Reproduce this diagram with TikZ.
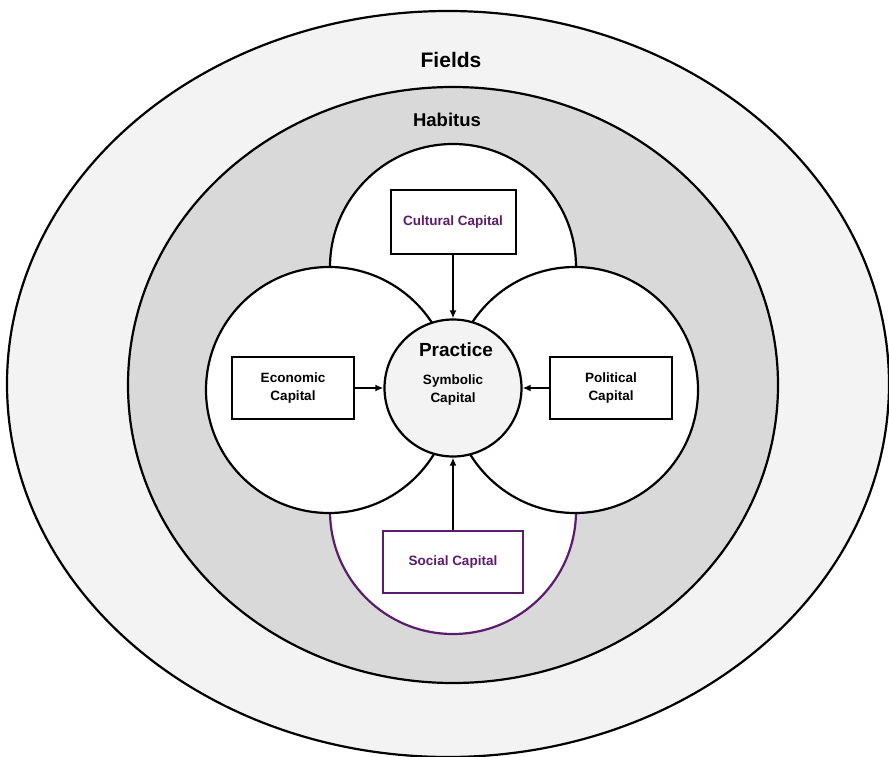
\documentclass[tikz,border=0pt]{standalone}
\usepackage{fontspec}
\setmainfont{Liberation Sans}
\usetikzlibrary{arrows.meta, positioning}
\definecolor{fieldgray}{HTML}{F3F3F3}
\definecolor{habitusgray}{HTML}{D9D9D9}
\definecolor{capitalpurple}{HTML}{5C1C6C}
\tikzset{
    ring/.style = {draw, line width = 2.2pt},
    lobe/.style = {circle, ring, fill = white, minimum size = 246pt, inner sep = 0pt},
    capital box/.style = {draw, line width = 2pt, fill = white, minimum width = 122pt,
        minimum height = 62pt, inner sep = 0pt, align = center,
        font = \fontsize{13.5pt}{18pt}\selectfont\bfseries},
    feeds/.style = {line width = 1.9pt, -{Latex[length = 8pt, width = 7pt]}},
}

\begin{document}
\begin{tikzpicture}[x = 1pt, y = -1pt]
    \useasboundingbox (0, 0) rectangle (889, 757);

    % fields and habitus
    \draw[ring, fill = fieldgray] (448, 384) ellipse [x radius = 441pt, y radius = 373pt];
    \draw[ring, fill = habitusgray] (453, 385) ellipse [x radius = 325pt, y radius = 298pt];

    \node[font = \fontsize{21pt}{24pt}\selectfont\bfseries] (fields) at (451, 60) {Fields};
    \node[font = \fontsize{18.5pt}{22pt}\selectfont\bfseries] (habitus) at (447, 120) {Habitus};

    % the four lobes
    \node[lobe] (top lobe) at (453, 267) {};
    \node[lobe, draw = capitalpurple] (bottom lobe) at (453, 511) {};
    \node[lobe] (left lobe) at (329, 390) {};
    \node[lobe] (right lobe) at (575, 390) {};

    \node[circle, ring, fill = fieldgray, minimum size = 137pt, inner sep = 0pt] (practice) at (453, 388) {};
    \node[font = \fontsize{19pt}{22pt}\selectfont\bfseries] (practice title) at (456, 350) {Practice};
    \node[align = center, font = \fontsize{13.5pt}{18pt}\selectfont\bfseries] (symbolic) at (453, 390) {Symbolic\\Capital};

    \node[capital box, minimum width = 125pt, minimum height = 64pt, text = capitalpurple] (cultural) at (453, 222) {Cultural Capital};
    \node[capital box] (economic) at (293, 388) {Economic\\Capital};
    \node[capital box] (political) at (611, 388) {Political\\Capital};
    \node[capital box, minimum width = 140pt, draw = capitalpurple, text = capitalpurple] (social) at (453, 562) {Social Capital};

    \draw[feeds] (cultural) -- (practice);
    \draw[feeds] (economic) -- (practice);
    \draw[feeds] (political) -- (practice);
    \draw[feeds] (social) -- (practice);
\end{tikzpicture}
\end{document}
